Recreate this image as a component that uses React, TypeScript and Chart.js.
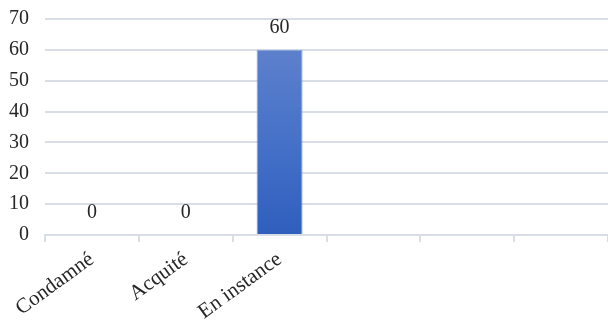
import React, { useEffect, useRef } from "react";
import { Chart, registerables } from "chart.js";

Chart.register(...registerables);

const categories = ["Condamné", "Acquité", "En instance", "", "", ""];
const values = [0, 0, 60, null, null, null];
const yTicks = [0, 10, 20, 30, 40, 50, 60, 70];

const FONT = "'Liberation Serif', 'Times New Roman', serif";
const TEXT = "#262626";
const GRID = "#d9dde6";

const labelPlugin = {
  id: "valueLabels",
  afterDatasetsDraw(chart: any) {
    const ctx = chart.ctx;
    const meta = chart.getDatasetMeta(0);
    ctx.save();
    ctx.font = `20px ${FONT}`;
    ctx.fillStyle = TEXT;
    ctx.textAlign = "center";
    ctx.textBaseline = "middle";
    meta.data.forEach((el: any, i: number) => {
      const v = values[i];
      if (v === null || v === undefined) return;
      ctx.fillText(String(v), el.x, el.y - 22);
    });
    ctx.restore();
  },
};

export default function App() {
  const ref = useRef<HTMLCanvasElement | null>(null);
  useEffect(() => {
    if (!ref.current) return;
    const chart = new Chart(ref.current, {
      type: "bar",
      data: {
        labels: categories,
        datasets: [
          {
            data: values as any,
            backgroundColor: (c: any) => {
              const ch = c.chart;
              const area = ch.chartArea;
              if (!area) return "#4472c4";
              const ys = ch.scales.y;
              const g = ch.ctx.createLinearGradient(0, ys.getPixelForValue(60), 0, ys.getPixelForValue(0));
              g.addColorStop(0, "#5d80cc");
              g.addColorStop(0.5, "#4571c8");
              g.addColorStop(1, "#2f5ebd");
              return g;
            },
            borderColor: "#7f9fdc",
            borderWidth: 1,
            barPercentage: 1,
            categoryPercentage: 0.49,
          },
        ],
      },
      options: {
        animation: false,
        responsive: true,
        maintainAspectRatio: false,
        layout: { padding: { top: 19, right: 0, left: 0, bottom: 0 } },
        plugins: { legend: { display: false }, tooltip: { enabled: false } },
        scales: {
          x: {
            grid: {
              offset: true,
              drawOnChartArea: false,
              drawTicks: true,
              tickLength: 7,
              color: GRID,
              lineWidth: 2,
            },
            border: { display: true, color: GRID, width: 2 },
            ticks: {
              color: TEXT,
              font: { family: FONT, size: 21 },
              minRotation: 36,
              maxRotation: 36,
              autoSkip: false,
              padding: 5,
            },
            afterFit: (s: any) => {
              s.height = 90;
              s.paddingLeft = 0;
              s.paddingRight = 0;
            },
          },
          y: {
            min: 0,
            max: 70,
            afterBuildTicks: (s: any) => {
              s.ticks = yTicks.map((v) => ({ value: v }));
            },
            grid: { color: GRID, lineWidth: 2, drawTicks: false },
            border: { display: false },
            ticks: {
              color: TEXT,
              font: { family: FONT, size: 20 },
              padding: 16,
            },
            afterFit: (s: any) => {
              s.width = 45;
              s.paddingTop = 0;
              s.paddingBottom = 0;
            },
          },
        },
      },
      plugins: [labelPlugin],
    });
    return () => chart.destroy();
  }, []);
  return (
    <div style={{ position: "fixed", left: 0, top: 0, width: 608, height: 325, background: "#fff" }}>
      <canvas ref={ref} />
    </div>
  );
}
